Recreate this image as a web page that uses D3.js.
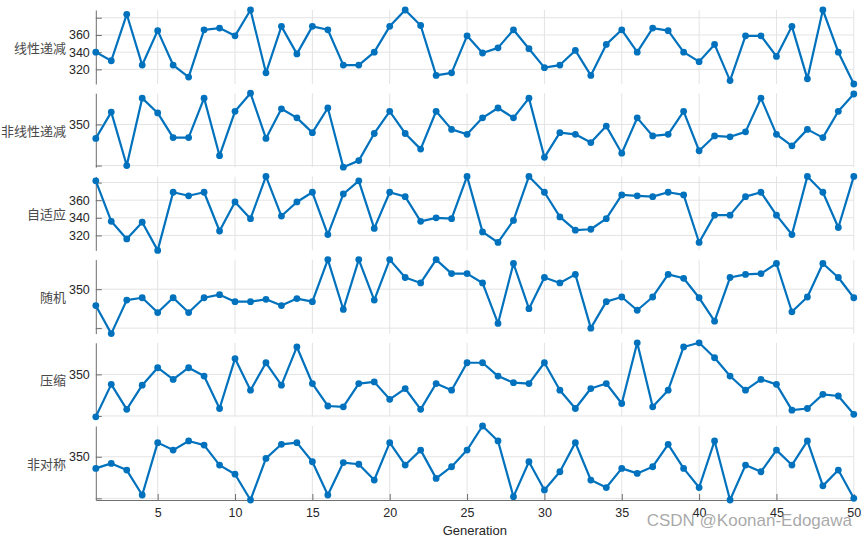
<!DOCTYPE html>
<html>
<head>
<meta charset="utf-8">
<script src="https://cdn.jsdelivr.net/npm/d3@7"></script>
<style>
  html, body { margin: 0; padding: 0; background: #fff; }
  svg { display: block; }
</style>
</head>
<body>
<svg id="chart" width="868" height="541"></svg>
<script>
// ---------- DATA ----------
const generations = d3.range(1, 51);
const seriesNames = ["线性递减", "非线性递减", "自适应", "随机", "压缩", "非对称"];

const linearDecrease = [340, 330, 384, 325, 365, 325, 311, 366, 368, 359,
  389, 316, 370, 338, 370, 366, 325, 325, 340, 370,
  389, 371, 313, 316, 359, 339, 345, 366, 344, 322,
  325, 342, 313, 349, 366, 340, 368, 365, 340, 329,
  349, 307, 359, 359, 335, 370, 309, 389, 340, 303];

const nonlinearDecrease = [333, 365, 300, 382, 364, 334, 334, 382, 312, 366,
  388, 333, 369, 358, 340, 370, 298, 306, 339, 366,
  339, 320, 366, 344, 338, 358, 370, 358, 382, 310,
  340, 338, 328, 348, 315, 358, 336, 338, 366, 318,
  336, 335, 341, 382, 338, 324, 344, 334, 366, 387];

const adaptive = [382, 336, 316, 335, 303, 369, 365, 369, 325, 358,
  339, 387, 342, 358, 369, 321, 367, 382, 328, 369,
  364, 336, 340, 339, 387, 324, 312, 337, 387, 369,
  341, 326, 327, 339, 366, 365, 364, 369, 366, 312,
  343, 343, 364, 369, 343, 321, 387, 369, 329, 387];

const randomStrategy = [329, 293, 336, 339, 320, 339, 320, 339, 343, 334,
  334, 337, 329, 338, 334, 388, 324, 388, 336, 388,
  365, 358, 388, 370, 370, 358, 306, 383, 325, 365,
  358, 369, 300, 334, 340, 323, 340, 369, 364, 339,
  309, 365, 369, 370, 383, 321, 340, 383, 365, 339];

const compression = [299, 338, 308, 337, 358, 344, 358, 348, 309, 369,
  331, 364, 337, 383, 339, 312, 311, 339, 341, 320,
  333, 308, 339, 331, 364, 364, 348, 340, 339, 364,
  331, 309, 333, 339, 315, 388, 311, 331, 383, 388,
  370, 348, 331, 344, 338, 307, 309, 326, 324, 302];

const asymmetric = [336, 342, 334, 304, 367, 358, 369, 364, 340, 329,
  298, 348, 365, 367, 344, 304, 343, 341, 322, 367,
  340, 358, 324, 338, 358, 387, 369, 302, 344, 310,
  332, 367, 322, 313, 336, 330, 338, 365, 336, 313,
  369, 298, 340, 332, 358, 340, 369, 315, 334, 300];

const seriesValues = [linearDecrease, nonlinearDecrease, adaptive, randomStrategy, compression, asymmetric];

const yTickValues = [
  [320, 340, 360, 380],
  [300, 350],
  [320, 340, 360, 380],
  [300, 350],
  [300, 350],
  [300, 350]
];
const yTickLabels = [
  ["320", "340", "360", ""],
  ["", "350"],
  ["320", "340", "360", ""],
  ["", "350"],
  ["", "350"],
  ["", "350"]
];
const xTickValues = [5, 10, 15, 20, 25, 30, 35, 40, 45, 50];
const xAxisLabel = "Generation";
const watermark = "CSDN @Koonan-Edogawa";

// ---------- LAYOUT ----------
const svg = d3.select("#chart");
const left = 95.8, right = 853.8;
const panelTop = 10, panelH = 74, panelStep = 83.2;
const lineColor = "#0072BD";
const gridColor = "#e3e3e3";
const axisColor = "#6e6e6e";
const textColor = "#262626";
const latinFont = "'Liberation Sans', Arial, Helvetica, sans-serif";

const x = d3.scaleLinear().domain([1, 50]).range([left, right]);

seriesValues.forEach((vals, i) => {
  const top = panelTop + i * panelStep;
  const bottom = top + panelH;
  const y = d3.scaleLinear().domain(d3.extent(vals)).range([bottom, top]);
  const g = svg.append("g");

  // vertical grid
  g.selectAll("line.vgrid").data(xTickValues).join("line")
    .attr("class", "vgrid")
    .attr("x1", d => x(d)).attr("x2", d => x(d))
    .attr("y1", top).attr("y2", bottom)
    .attr("stroke", gridColor).attr("stroke-width", 1);

  // horizontal grid
  g.selectAll("line.hgrid").data(yTickValues[i]).join("line")
    .attr("class", "hgrid")
    .attr("x1", left).attr("x2", right)
    .attr("y1", d => y(d)).attr("y2", d => y(d))
    .attr("stroke", gridColor).attr("stroke-width", 1);

  // y axis
  const labels = yTickLabels[i];
  const yAxis = d3.axisLeft(y)
    .tickValues(yTickValues[i])
    .tickSizeInner(-6).tickSizeOuter(0)
    .tickPadding(6)
    .tickFormat((d, k) => labels[k]);
  const ya = g.append("g").attr("transform", `translate(${left},0)`).call(yAxis);
  ya.select(".domain").attr("stroke", axisColor);
  ya.selectAll(".tick line").attr("stroke", axisColor);
  ya.selectAll(".tick text")
    .attr("fill", textColor)
    .style("font-family", latinFont)
    .style("font-size", "12.5px");

  // x axis on bottom panel
  if (i === seriesValues.length - 1) {
    const xAxis = d3.axisBottom(x).tickValues(xTickValues)
      .tickSizeInner(-6).tickSizeOuter(0).tickPadding(8);
    const xa = g.append("g").attr("transform", `translate(0,${bottom})`).call(xAxis);
    xa.select(".domain").attr("stroke", axisColor);
    xa.selectAll(".tick line").attr("stroke", axisColor);
    xa.selectAll(".tick text")
      .attr("fill", textColor)
      .style("font-family", latinFont)
      .style("font-size", "12.5px");
  }

  // series label
  g.append("text")
    .attr("x", 66).attr("y", (top + bottom) / 2 + 2)
    .attr("text-anchor", "end").attr("dominant-baseline", "middle")
    .attr("fill", "#4a4a4a")
    .style("font-family", "'Noto Sans CJK SC', sans-serif")
    .style("font-size", "13px")
    .text(seriesNames[i]);

  // line
  const line = d3.line().x((d, k) => x(generations[k])).y(d => y(d));
  g.append("path").datum(vals)
    .attr("fill", "none").attr("stroke", lineColor)
    .attr("stroke-width", 2.2).attr("stroke-linejoin", "round")
    .attr("d", line);

  // markers
  g.selectAll("circle").data(vals).join("circle")
    .attr("cx", (d, k) => x(generations[k]))
    .attr("cy", d => y(d))
    .attr("r", 3.4)
    .attr("fill", lineColor);
});

// x label
svg.append("text")
  .attr("x", (left + right) / 2).attr("y", 535)
  .attr("text-anchor", "middle")
  .attr("fill", textColor)
  .style("font-family", latinFont)
  .style("font-size", "13px")
  .text(xAxisLabel);

// watermark
svg.append("text")
  .attr("x", 852).attr("y", 526)
  .attr("text-anchor", "end")
  .attr("fill", "#8c8c8c").attr("fill-opacity", 0.75)
  .style("font-family", latinFont)
  .style("font-size", "17px")
  .text(watermark);
</script>
</body>
</html>
